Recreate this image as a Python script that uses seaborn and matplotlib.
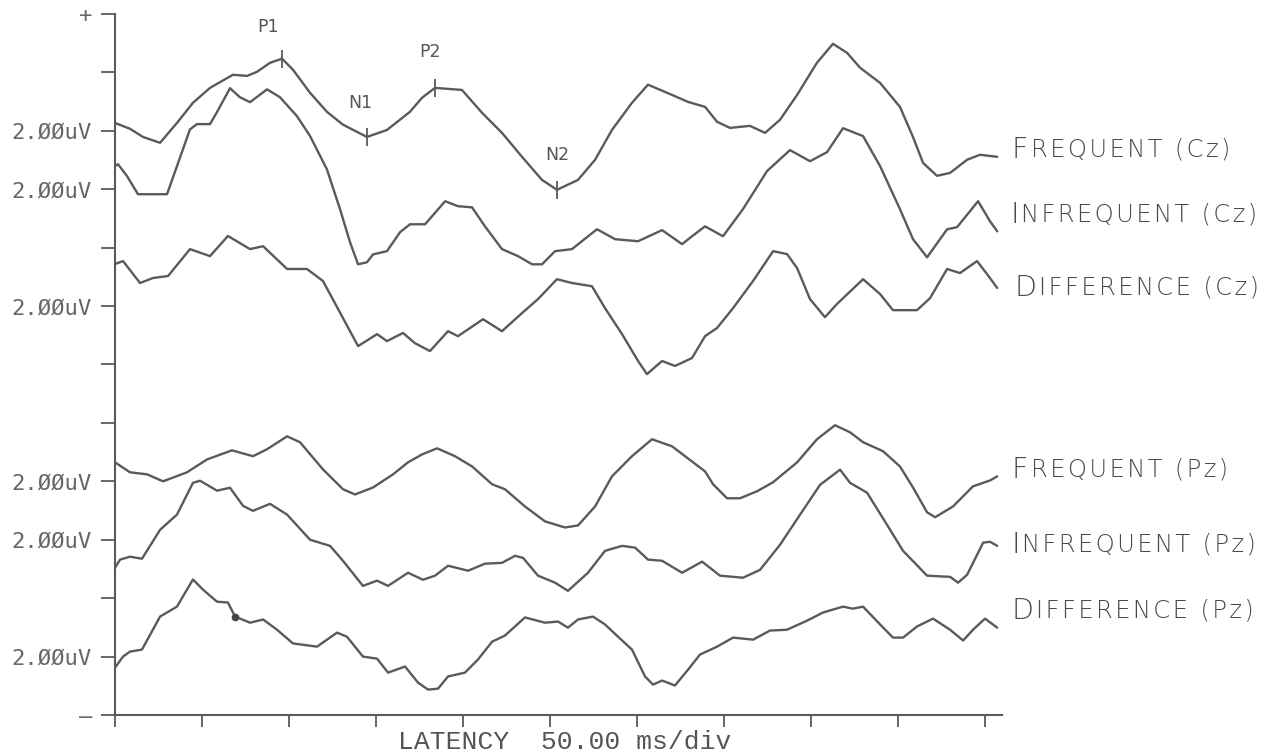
import numpy as np
import pandas as pd
import matplotlib
matplotlib.use("Agg")
import matplotlib.pyplot as plt
import seaborn as sns

# ---- averaged ERP traces: latency (ms) and amplitude (uV) about each baseline ----
freq_cz_ms = [0, 8.6, 16.1, 25.9, 35.6, 44.8, 54.6, 67.8, 75.9, 81.6, 89.1, 96.0, 102.3, 112.1,
              121.8, 131.0, 144.8, 156.3, 169.5, 176.4, 183.9, 199.4, 210.9, 222.4, 233.9, 245.4,
              254.0, 266.1, 275.9, 285.6, 297.1, 306.3, 320.1, 329.3, 339.1, 346.0, 353.4, 364.9,
              373.6, 382.2, 392.0, 403.4, 412.6, 420.7, 428.2, 439.7, 451.1, 458.6, 464.4, 472.4,
              479.9, 489.7, 497.1, 507.0]
freq_cz_uv = [0.27, 0.07, -0.21, -0.41, 0.27, 0.96, 1.47, 1.92, 1.88, 2.02, 2.33, 2.47, 2.09, 1.30,
              0.65, 0.21, -0.21, 0.03, 0.65, 1.13, 1.47, 1.40, 0.62, -0.07, -0.89, -1.68,
              -2.02, -1.68, -0.99, 0.03, 0.96, 1.58, 1.23, 0.99, 0.82, 0.31, 0.10, 0.17,
              -0.07, 0.38, 1.23, 2.33, 2.98, 2.67, 2.16, 1.64, 0.82, -0.21, -1.10, -1.54,
              -1.44, -0.99, -0.82, -0.89]

infreq_cz_ms = [0, 1.7, 6.9, 13.2, 29.9, 35.6, 43.1, 47.1, 54.6, 58.6, 66.1, 71.8, 77.6, 87.4, 94.8,
                104.6, 112.1, 121.8, 129.3, 135.1, 139.7, 144.8, 148.3, 156.3, 163.8, 169.5, 178.2,
                189.7, 197.1, 205.2, 212.6, 222.4, 231.6, 239.7, 245.4, 252.9, 262.6, 277.0, 287.4,
                300.6, 314.4, 325.9, 331.6, 339.1, 349.4, 360.9, 374.7, 387.9, 399.4, 409.2, 418.4,
                429.9, 439.7, 451.1, 458.6, 466.7, 478.2, 483.9, 496.0, 502.9, 507.0]
infreq_cz_uv = [0.79, 0.86, 0.45, -0.17, -0.17, 0.79, 2.05, 2.23, 2.23, 2.64, 3.46, 3.15, 2.98, 3.42,
                3.15, 2.50, 1.82, 0.68, -0.68, -1.82, -2.57, -2.50, -2.23, -2.12, -1.47, -1.20,
                -1.20, -0.41, -0.58, -0.62, -1.27, -2.05, -2.29, -2.57, -2.57, -2.12, -2.05, -1.37,
                -1.71, -1.78, -1.40, -1.88, -1.61, -1.27, -1.61, -0.68, 0.62, 1.34, 0.96, 1.27,
                2.09, 1.82, 0.79, -0.68, -1.71, -2.33, -1.37, -1.30, -0.41, -1.10, -1.44]

diff_cz_ms = [0, 4.6, 14.4, 21.8, 30.5, 43.1, 54.6, 64.9, 77.6, 85.1, 98.9, 110.3, 119.5, 131.0,
              139.7, 150.6, 156.3, 165.5, 172.4, 181.0, 191.4, 197.1, 211.5, 222.4, 233.9, 243.1,
              254.0, 262.6, 274.1, 281.6, 291.4, 300.6, 305.7, 314.4, 321.8, 331.6, 339.1, 346.0,
              355.2, 366.7, 378.2, 386.2, 392.0, 399.4, 408.0, 414.9, 429.9, 439.7, 447.1, 460.9,
              468.4, 478.2, 485.6, 495.4, 501.1, 507.0]
diff_cz_uv = [1.44, 1.54, 0.79, 0.96, 1.03, 1.95, 1.71, 2.40, 1.95, 2.05, 1.27, 1.27, 0.86, -0.41,
              -1.37, -0.96, -1.20, -0.92, -1.27, -1.54, -0.86, -1.03, -0.45, -0.86, -0.24, 0.24,
              0.92, 0.79, 0.68, -0.07, -0.96, -1.88, -2.33, -1.88, -2.05, -1.78, -1.03, -0.75,
              -0.07, 0.86, 1.88, 1.78, 1.30, 0.24, -0.38, 0.07, 0.92, 0.41, -0.14, -0.14,
              0.27, 1.27, 1.13, 1.54, 1.10, 0.62]

freq_pz_ms = [0, 8.6, 18.4, 27.6, 41.4, 52.9, 67.2, 79.3, 87.4, 98.9, 106.3, 119.5, 131.0, 137.9,
              148.3, 159.8, 168.4, 176.4, 185.1, 195.4, 205.2, 216.7, 224.1, 235.6, 247.1, 258.6,
              266.1, 275.9, 285.6, 297.1, 308.6, 320.1, 331.6, 339.1, 343.7, 351.7, 359.2, 369.0,
              378.2, 392.0, 403.4, 413.8, 422.4, 429.9, 441.4, 451.1, 458.6, 466.7, 471.3, 481.6,
              493.1, 502.9, 507.0]
freq_pz_uv = [0.65, 0.31, 0.24, 0.0, 0.31, 0.75, 1.06, 0.86, 1.10, 1.54, 1.34, 0.41, -0.27, -0.45,
              -0.21, 0.24, 0.65, 0.92, 1.13, 0.86, 0.51, -0.10, -0.27, -0.86, -1.37, -1.58,
              -1.51, -0.86, 0.17, 0.86, 1.44, 1.20, 0.68, 0.34, -0.10, -0.58, -0.58, -0.34,
              -0.03, 0.65, 1.44, 1.92, 1.68, 1.34, 1.03, 0.51, -0.21, -1.06, -1.23, -0.86,
              -0.17, 0.03, 0.17]

infreq_pz_ms = [0, 2.9, 8.6, 15.5, 25.9, 35.6, 44.8, 48.9, 58.6, 66.1, 73.6, 79.3, 89.1, 98.9, 112.1,
                123.6, 131.0, 142.5, 150.6, 156.9, 168.4, 177.0, 183.9, 191.4, 202.9, 212.6, 222.4,
                229.9, 234.5, 243.1, 252.9, 260.3, 271.8, 281.6, 291.4, 298.9, 306.3, 314.4, 325.9,
                337.4, 347.7, 360.9, 370.7, 382.2, 393.7, 405.2, 416.7, 422.4, 432.2, 443.7, 452.9,
                466.7, 479.9, 484.5, 489.7, 498.9, 502.9, 507.0]
infreq_pz_uv = [-0.96, -0.68, -0.58, -0.65, 0.34, 0.86, 1.95, 2.02, 1.68, 1.78, 1.16, 0.99, 1.23, 0.86,
                0.0, -0.21, -0.72, -1.58, -1.40, -1.58, -1.13, -1.37, -1.23, -0.89, -1.06, -0.82,
                -0.79, -0.55, -0.62, -1.23, -1.47, -1.75, -1.13, -0.38, -0.21, -0.27, -0.68, -0.72,
                -1.13, -0.75, -1.23, -1.30, -1.03, -0.17, 0.86, 1.88, 2.40, 1.95, 1.61, 0.51,
                -0.38, -1.23, -1.27, -1.47, -1.20, -0.10, -0.07, -0.21]

diff_pz_ms = [0, 4.6, 8.6, 15.5, 25.9, 35.6, 44.8, 50.6, 58.6, 64.9, 69.0, 77.6, 85.1, 93.1, 102.3,
              116.1, 127.6, 133.3, 142.5, 150.6, 156.9, 166.7, 174.1, 179.9, 185.6, 191.4, 201.1,
              208.6, 216.7, 224.1, 235.6, 247.1, 254.6, 260.3, 266.1, 274.7, 281.6, 289.1, 297.1,
              304.6, 309.2, 314.4, 321.8, 329.3, 336.2, 346.0, 355.2, 366.7, 376.4, 386.2, 397.7,
              406.9, 418.4, 424.1, 429.9, 439.7, 447.1, 452.9, 460.9, 470.1, 479.9, 487.4, 493.1,
              500.0, 507.0]
diff_pz_uv = [-0.38, 0.0, 0.17, 0.24, 1.37, 1.71, 2.64, 2.29, 1.88, 1.85, 1.37, 1.16, 1.27, 0.92, 0.45,
              0.34, 0.82, 0.68, 0.0, -0.07, -0.55, -0.34, -0.89, -1.13, -1.10, -0.68, -0.55,
              -0.10, 0.51, 0.72, 1.34, 1.16, 1.20, 0.99, 1.27, 1.37, 1.10, 0.68, 0.24,
              -0.68, -0.96, -0.82, -0.99, -0.45, 0.07, 0.34, 0.65, 0.58, 0.89, 0.92, 1.23,
              1.51, 1.71, 1.64, 1.71, 1.10, 0.65, 0.65, 1.03, 1.30, 0.92, 0.55, 0.92,
              1.30, 0.99]

# trace names, stacking baselines (uV on the offset axis) and right-hand captions
trace_names = ["Frequent (Cz)", "Infrequent (Cz)", "Difference (Cz)",
               "Frequent (Pz)", "Infrequent (Pz)", "Difference (Pz)"]
baselines_uv = [20, 18, 14, 8, 6, 2]
caption_heads = ["F", "I", "D", "F", "I", "D"]
caption_tails = ["REQUENT (Cz)", "NFREQUENT (Cz)", "IFFERENCE (Cz)",
                 "REQUENT (Pz)", "NFREQUENT (Pz)", "IFFERENCE (Pz)"]
calibration_label = "2.ØØuV"

# component peaks marked on the frequent Cz trace
peak_names = ["P1", "N1", "P2", "N2"]
peak_latencies = [96.0, 144.8, 183.9, 254.0]

x_ticks_ms = list(range(0, 501, 50))
x_label = "LATENCY  50.00 ms/div"

series = [(freq_cz_ms, freq_cz_uv), (infreq_cz_ms, infreq_cz_uv), (diff_cz_ms, diff_cz_uv),
          (freq_pz_ms, freq_pz_uv), (infreq_pz_ms, infreq_pz_uv), (diff_pz_ms, diff_pz_uv)]

frames = []
for name, base, (ms, uv) in zip(trace_names, baselines_uv, series):
    frames.append(pd.DataFrame({"latency": ms, "amplitude": uv,
                                "trace": name, "baseline": base}))
df = pd.concat(frames, ignore_index=True)
df["level"] = df["amplitude"] + df["baseline"]

sns.set_theme(style="white")
plt.rcParams["font.family"] = ["DejaVu Sans"]

INK = "#5a5a5a"
PENCIL = "#4a4a4a"
HAIR = "\u200a"  # hair space used as loose hand-lettered tracking


def tracked(s):
    return HAIR.join(s)


fig = plt.figure(figsize=(12.85, 7.52), dpi=100)
ax = fig.add_axes([0.0895, 0.0492, 0.6906, 0.9322])

sns.lineplot(data=df, x="latency", y="level", hue="trace", hue_order=trace_names,
             palette=[INK] * len(trace_names), estimator=None, sort=False,
             legend=False, linewidth=1.7, ax=ax)

ax.set_xlim(0, 510)
ax.set_ylim(0, 24)
ax.set_xlabel("")
ax.set_ylabel("")

# x axis: one tick per 50 ms division, no numbers
ax.set_xticks(x_ticks_ms)
ax.set_xticklabels([])

# y axis: a tick every 2 uV, calibration label at each trace baseline
y_ticks = list(range(0, 25, 2))
y_labels = []
for t in y_ticks:
    if t in baselines_uv:
        y_labels.append(calibration_label)
    elif t == 24:
        y_labels.append("+")
    elif t == 0:
        y_labels.append("–")
    else:
        y_labels.append("")
ax.set_yticks(y_ticks)
ax.set_yticklabels(y_labels, family="DejaVu Sans Mono", fontsize=16, color="#666666")

sns.despine(ax=ax)
for side in ("left", "bottom"):
    ax.spines[side].set_color(INK)
    ax.spines[side].set_linewidth(1.5)
ax.tick_params(axis="y", direction="out", length=10, width=1.3, color=INK, pad=6.5, left=True)
ax.tick_params(axis="x", direction="out", length=8.5, width=1.3, color=INK, bottom=True)

# peak markers and names on the frequent Cz trace
label_offsets = [(-10, 23), (-5, 24.5), (-3.6, 26), (0, 25)]
cz_base = baselines_uv[0]
for name, lat, off in zip(peak_names, peak_latencies, label_offsets):
    amp = np.interp(lat, freq_cz_ms, freq_cz_uv) + cz_base
    ax.plot([lat], [amp], marker="|", markersize=13, markeredgewidth=1.3, color=INK)
    ax.annotate(name, (lat, amp), xytext=off, textcoords="offset points",
                ha="center", va="center", fontsize=12.5, color="#555555")

# small ink blot on the Pz difference wave
blot_idx = diff_pz_ms.index(69.0)
ax.plot([diff_pz_ms[blot_idx]], [diff_pz_uv[blot_idx] + baselines_uv[5]], "o",
        markersize=4.5, color="#444444")

# hand-lettered captions to the right of each trace end (baseline position)
caption_pos = [(515.5, 19.07), (514.5, 16.85), (517, 14.35), (515.5, 8.12), (515, 5.55), (515, 3.29)]
for head, tail, (cx, cy) in zip(caption_heads, caption_tails, caption_pos):
    t1 = ax.text(cx, cy, head, fontsize=20.5, color=PENCIL, family="DejaVu Sans",
                 fontweight="light", va="baseline", ha="left", clip_on=False)
    ax.annotate(tracked(tail), xy=(1.0, 0.0), xycoords=t1, xytext=(1.8, 1.5),
                textcoords="offset points", fontsize=17.5, color=PENCIL,
                family="DejaVu Sans", fontweight="light",
                va="bottom", ha="left", annotation_clip=False)

fig.text(565 / 1285, 1 - 742 / 752, x_label, ha="center", va="center",
         family="Liberation Mono", fontsize=19, color="#555555")

fig.savefig("out.png", dpi=100, facecolor="white")
